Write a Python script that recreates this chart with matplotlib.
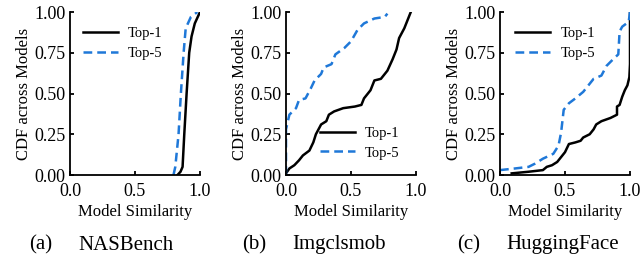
import matplotlib
matplotlib.use('Agg')
import matplotlib.pyplot as plt

plt.rcParams['font.family'] = ['Liberation Serif', 'DejaVu Serif']

# NASBench
nas_top1_x = [0.827, 0.85, 0.866, 0.879, 0.897, 0.917, 0.935, 0.96, 1.0]
nas_top1_y = [0.0, 0.02, 0.05, 0.25, 0.5, 0.75, 0.85, 0.93, 1.0]
nas_top5_x = [0.796, 0.81, 0.835, 0.853, 0.874, 0.89, 0.93, 0.98]
nas_top5_y = [0.0, 0.05, 0.25, 0.5, 0.75, 0.9, 0.97, 1.0]

# Imgclsmob
img_top1_x = [0.0, 0.026, 0.064, 0.10, 0.13, 0.18, 0.21, 0.23, 0.27, 0.31, 0.33, 0.37,
              0.44, 0.53, 0.58, 0.60, 0.65, 0.68, 0.73, 0.78, 0.82, 0.85, 0.87, 0.91, 0.96]
img_top1_y = [0.01, 0.04, 0.06, 0.09, 0.12, 0.15, 0.20, 0.25, 0.31, 0.33, 0.37, 0.39,
              0.41, 0.42, 0.43, 0.47, 0.52, 0.58, 0.59, 0.64, 0.71, 0.77, 0.84, 0.90, 1.0]
img_top5_x = [0.0, 0.0, 0.026, 0.077, 0.10, 0.15, 0.19, 0.22, 0.27, 0.29, 0.35, 0.38,
              0.45, 0.50, 0.55, 0.60, 0.68, 0.76, 0.78]
img_top5_y = [0.0, 0.28, 0.37, 0.41, 0.46, 0.47, 0.53, 0.58, 0.62, 0.66, 0.68, 0.74,
              0.78, 0.82, 0.89, 0.93, 0.96, 0.97, 0.99]

# HuggingFace
hf_top1_x = [0.09, 0.22, 0.33, 0.36, 0.40, 0.44, 0.47, 0.50, 0.53, 0.58, 0.62, 0.64,
             0.69, 0.72, 0.74, 0.78, 0.85, 0.90, 0.90, 0.92, 0.94, 0.96, 0.98, 0.995, 1.0, 1.0]
hf_top1_y = [0.01, 0.02, 0.03, 0.05, 0.06, 0.08, 0.11, 0.14, 0.19, 0.20, 0.21, 0.23,
             0.25, 0.28, 0.31, 0.33, 0.35, 0.37, 0.42, 0.43, 0.48, 0.52, 0.55, 0.60, 0.68, 1.0]
hf_top5_x = [0.0, 0.115, 0.22, 0.27, 0.33, 0.41, 0.45, 0.47, 0.49, 0.53, 0.58, 0.64,
             0.68, 0.72, 0.78, 0.82, 0.87, 0.91, 0.92, 0.94, 0.99, 1.0]
hf_top5_y = [0.03, 0.04, 0.05, 0.07, 0.10, 0.13, 0.18, 0.26, 0.40, 0.44, 0.47, 0.51,
             0.55, 0.59, 0.61, 0.67, 0.71, 0.74, 0.88, 0.91, 0.94, 1.0]

panels = [
    ('(a)', 'NASBench', nas_top1_x, nas_top1_y, nas_top5_x, nas_top5_y, (0.02, 0.97), 52, 78),
    ('(b)', 'Imgclsmob', img_top1_x, img_top1_y, img_top5_x, img_top5_y, (0.18, 0.36), 266, 292),
    ('(c)', 'HuggingFace', hf_top1_x, hf_top1_y, hf_top5_x, hf_top5_y, (0.04, 0.97), 480, 506),
]
lefts = [70, 286, 500]
blue = '#1f78d8'

fig = plt.figure(figsize=(6.42, 2.63), dpi=100)
for (tag, name, x1, y1, x5, y5, leg_pos, tag_x, name_x), left in zip(panels, lefts):
    ax = fig.add_axes([left / 642, 88 / 263, 130 / 642, 163 / 263])
    ax.plot(x1, y1, color='black', lw=1.8, label='Top-1')
    ax.plot(x5, y5, color=blue, lw=1.8, ls=(0, (3.5, 2)), label='Top-5')
    ax.set_xlim(0, 1)
    ax.set_ylim(0, 1)
    ax.set_xticks([0.0, 0.5, 1.0])
    ax.set_yticks([0.0, 0.25, 0.5, 0.75, 1.0])
    ax.set_xticklabels(['0.0', '0.5', '1.0'])
    ax.set_yticklabels(['0.00', '0.25', '0.50', '0.75', '1.00'])
    ax.tick_params(direction='in', labelsize=13, length=3, width=1.3)
    ax.tick_params(axis='x', pad=6)
    ax.tick_params(axis='y', pad=3)
    for s in ['top', 'right']:
        ax.spines[s].set_visible(False)
    for s in ['left', 'bottom']:
        ax.spines[s].set_linewidth(1.3)
    ax.set_xlabel('Model Similarity', fontsize=12, labelpad=3)
    ax.set_ylabel('CDF across Models', fontsize=12, labelpad=2)
    ax.legend(loc='upper left', bbox_to_anchor=leg_pos, frameon=False, fontsize=10.5,
              handlelength=2.4, handletextpad=0.7, labelspacing=0.45, borderpad=0.2)
    fig.text(tag_x / 642, 1 - 245 / 263, tag, ha='right', va='center', fontsize=15)
    fig.text(name_x / 642, 1 - 245 / 263, name, ha='left', va='center', fontsize=15)

fig.savefig('out.png', dpi=100)
